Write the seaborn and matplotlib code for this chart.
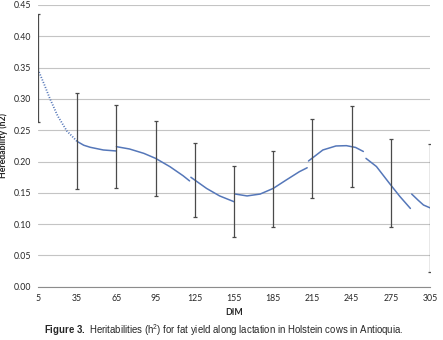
import numpy as np
import pandas as pd
import matplotlib
matplotlib.use('Agg')
import matplotlib.pyplot as plt
import seaborn as sns

# puntos (DIM, h2), por tramo
seg1_dim = [5, 10, 14, 20, 27, 35]
seg1_h2 = [0.347, 0.322, 0.301, 0.273, 0.249, 0.232]
seg2_dim = [35, 40, 45, 55, 65]
seg2_h2 = [0.232, 0.226, 0.2227, 0.2184, 0.2168]
seg3_dim = [65, 75, 86, 95, 106, 116, 121]
seg3_h2 = [0.2237, 0.220, 0.213, 0.205, 0.1917, 0.1773, 0.169]
seg4_dim = [122, 134, 144, 155]
seg4_h2 = [0.1748, 0.157, 0.145, 0.1358]
seg5_dim = [156, 165, 175, 185, 195, 205, 211]
seg5_h2 = [0.148, 0.145, 0.148, 0.157, 0.1705, 0.1837, 0.190]
seg6_dim = [212, 223, 233, 241, 248, 254]
seg6_h2 = [0.2008, 0.2184, 0.2248, 0.2253, 0.2225, 0.216]
seg7_dim = [256, 264, 274, 282, 290]
seg7_h2 = [0.205, 0.192, 0.165, 0.144, 0.125]
seg8_dim = [291, 296, 300, 305]
seg8_h2 = [0.148, 0.138, 0.1305, 0.126]

# barras de error
err_dim = [5, 35, 65, 95, 125, 155, 185, 215, 245, 275, 305]
err_low = [0.263, 0.156, 0.157, 0.145, 0.111, 0.079, 0.095, 0.142, 0.159, 0.095, 0.023]
err_high = [0.435, 0.309, 0.291, 0.265, 0.229, 0.193, 0.217, 0.268, 0.289, 0.236, 0.228]

sns.set_style('white')
plt.rcParams['font.family'] = ['Lato', 'DejaVu Sans']
plt.rcParams['mathtext.fontset'] = 'custom'
plt.rcParams['mathtext.rm'] = 'Liberation Sans'
plt.rcParams['mathtext.bf'] = 'Liberation Sans:bold'

segs = [(seg2_dim, seg2_h2), (seg3_dim, seg3_h2), (seg4_dim, seg4_h2),
        (seg5_dim, seg5_h2), (seg6_dim, seg6_h2), (seg7_dim, seg7_h2),
        (seg8_dim, seg8_h2)]
curve = pd.concat([pd.DataFrame({'DIM': d, 'h2': h, 'seg': i}) for i, (d, h) in enumerate(segs)])

fig = plt.figure(figsize=(4.43, 3.40), dpi=100)
ax = fig.add_axes([38 / 443, 1 - 286.7 / 340, 392 / 443, 281.7 / 340])

blue = '#5577B9'
ax.plot(seg1_dim, seg1_h2, color=blue, lw=1.3, ls=(0, (0.6, 0.9)))
sns.lineplot(data=curve, x='DIM', y='h2', units='seg', estimator=None,
             color=blue, lw=1.1, ax=ax)

lo = np.array(err_low)
hi = np.array(err_high)
mid = (lo + hi) / 2
ax.errorbar(err_dim, mid, yerr=(hi - lo) / 2, fmt='none', ecolor='#4a4a4a',
            elinewidth=0.9, capsize=1.3, capthick=0.9)

ax.set_xlim(5, 305)
ax.set_ylim(0, 0.45)
ax.set_xticks(err_dim)
ax.set_yticks(np.arange(0, 0.451, 0.05))
ax.set_yticklabels([f'{v:.2f}' for v in np.arange(0, 0.451, 0.05)])
ax.grid(axis='y', color='#c4c4c4', lw=0.8)
ax.grid(axis='x', visible=False)
for s in ['top', 'right', 'left']:
    ax.spines[s].set_visible(False)
ax.spines['bottom'].set_color('#8c8c8c')
ax.spines['bottom'].set_linewidth(0.8)
ax.tick_params(axis='x', length=3, width=0.8, color='#8c8c8c', labelsize=6.3, pad=2)
ax.tick_params(axis='y', length=0, labelsize=6.3, pad=5)
ax.set_xlabel('DIM', fontsize=6.3, fontweight='bold', labelpad=4)
ax.set_ylabel('Heredability (h2)', fontsize=6.3, fontweight='bold', labelpad=4)

fig.text(0.506, 0.029, r'$\bf{Figure\ 3.}$ Heritabilities (h$^{2}$) for fat yield along lactation in Holstein cows in Antioquia.',
         ha='center', va='center', fontsize=6.9, family='Liberation Sans')

fig.savefig('out.png', dpi=100)
